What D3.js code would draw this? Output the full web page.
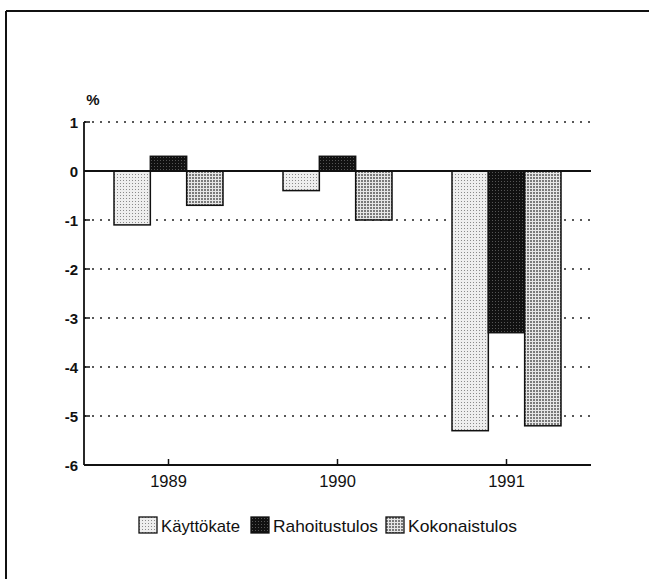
<!DOCTYPE html>
<html>
<head>
<meta charset="utf-8">
<script src="https://cdn.jsdelivr.net/npm/d3@7"></script>
<style>
	body { margin: 0; background: #fff; overflow: hidden; }
	svg { display: block; }
	text { font-family: "Liberation Sans", Arial, sans-serif; fill: #111; }
</style>
</head>
<body>
<div id="chart"></div>
<script>
// Data
var years = ["1989", "1990", "1991"];
var series = ["Käyttökate", "Rahoitustulos", "Kokonaistulos"];
var kayttokate = [-1.1, -0.4, -5.3];
var rahoitustulos = [0.3, 0.3, -3.3];
var kokonaistulos = [-0.7, -1.0, -5.2];
var yTicks = [1, 0, -1, -2, -3, -4, -5, -6];

function init() {

	var w = 649;
	var h = 579;

	var left = 84, right = 591, top = 122, bottom = 465;

	var values = [kayttokate, rahoitustulos, kokonaistulos];

	var svg = d3.select("#chart")
		.append("svg")
		.attr("width", w)
		.attr("height", h);

	// Fill patterns
	var defs = svg.append("defs");

	var p1 = defs.append("pattern").attr("id", "p0")
		.attr("width", 3).attr("height", 3).attr("patternUnits", "userSpaceOnUse");
	p1.append("rect").attr("width", 3).attr("height", 3).attr("fill", "#eeeeee");
	p1.append("rect").attr("width", 1).attr("height", 1).attr("fill", "#8a8a8a");

	var p2 = defs.append("pattern").attr("id", "p1")
		.attr("width", 3).attr("height", 3).attr("patternUnits", "userSpaceOnUse");
	p2.append("rect").attr("width", 3).attr("height", 3).attr("fill", "#111");
	p2.append("rect").attr("x", 1).attr("y", 1).attr("width", 1).attr("height", 1).attr("fill", "#555");

	var p3 = defs.append("pattern").attr("id", "p2")
		.attr("width", 3).attr("height", 3).attr("patternUnits", "userSpaceOnUse");
	p3.append("rect").attr("width", 3).attr("height", 3).attr("fill", "#e6e6e6");
	p3.append("rect").attr("width", 2).attr("height", 2).attr("fill", "#7a7a7a");

	// Frame (top and left only)
	svg.append("line").attr("x1", 6).attr("x2", w).attr("y1", 11).attr("y2", 11)
		.attr("stroke", "#111").attr("stroke-width", 2);
	svg.append("line").attr("x1", 6).attr("x2", 6).attr("y1", 11).attr("y2", h)
		.attr("stroke", "#111").attr("stroke-width", 2);

	var xScale = d3.scaleBand()
		.domain(years)
		.range([left, right]);

	var xInner = d3.scaleBand()
		.domain(d3.range(series.length))
		.range([0, 109]);

	var yScale = d3.scaleLinear()
		.domain([-6, 1])
		.range([bottom, top]);

	// Dotted gridlines
	svg.selectAll(".grid")
		.data(yTicks.filter(function(d) { return d !== 0 && d !== -6; }))
		.enter()
		.append("line")
		.attr("class", "grid")
		.attr("x1", left)
		.attr("x2", right)
		.attr("y1", function(d) { return yScale(d); })
		.attr("y2", function(d) { return yScale(d); })
		.attr("stroke", "#222")
		.attr("stroke-width", 1.6)
		.attr("stroke-dasharray", "2,6");

	// y ticks (short solid stubs)
	svg.selectAll(".ytick")
		.data(yTicks)
		.enter()
		.append("line")
		.attr("x1", left)
		.attr("x2", left + 6)
		.attr("y1", function(d) { return yScale(d); })
		.attr("y2", function(d) { return yScale(d); })
		.attr("stroke", "#111")
		.attr("stroke-width", 1.5);

	svg.selectAll(".ylab")
		.data(yTicks)
		.enter()
		.append("text")
		.attr("x", 78)
		.attr("y", function(d) { return yScale(d) + 5.5; })
		.attr("text-anchor", "end")
		.attr("font-size", 15)
		.attr("font-weight", "bold")
		.text(function(d) { return d; });

	svg.append("text")
		.attr("x", 93)
		.attr("y", 105)
		.attr("text-anchor", "middle")
		.attr("font-size", 15)
		.attr("font-weight", "bold")
		.text("%");

	// Bars
	var groups = svg.selectAll(".year")
		.data(years)
		.enter()
		.append("g")
		.attr("transform", function(d) {
			return "translate(" + (xScale(d) + xScale.bandwidth() / 2 - 54.5) + ",0)";
		});

	groups.selectAll("rect")
		.data(function(d, i) {
			return values.map(function(v, j) { return { s: j, v: v[i] }; });
		})
		.enter()
		.append("rect")
		.attr("x", function(d) { return xInner(d.s); })
		.attr("y", function(d) { return yScale(Math.max(0, d.v)); })
		.attr("width", xInner.bandwidth())
		.attr("height", function(d) { return Math.abs(yScale(d.v) - yScale(0)); })
		.attr("fill", function(d) { return "url(#p" + d.s + ")"; })
		.attr("stroke", "#111")
		.attr("stroke-width", 1.5);

	// Axes lines
	svg.append("line").attr("x1", left).attr("x2", right)
		.attr("y1", yScale(0)).attr("y2", yScale(0))
		.attr("stroke", "#111").attr("stroke-width", 1.8);
	svg.append("line").attr("x1", left).attr("x2", right)
		.attr("y1", bottom).attr("y2", bottom)
		.attr("stroke", "#111").attr("stroke-width", 1.8);
	svg.append("line").attr("x1", left).attr("x2", left)
		.attr("y1", top).attr("y2", bottom)
		.attr("stroke", "#111").attr("stroke-width", 1.8);

	// x ticks and labels
	svg.selectAll(".xtick")
		.data(years)
		.enter()
		.append("line")
		.attr("x1", function(d) { return xScale(d) + xScale.bandwidth() / 2; })
		.attr("x2", function(d) { return xScale(d) + xScale.bandwidth() / 2; })
		.attr("y1", bottom)
		.attr("y2", bottom - 6)
		.attr("stroke", "#111")
		.attr("stroke-width", 1.5);

	svg.selectAll(".xlab")
		.data(years)
		.enter()
		.append("text")
		.attr("x", function(d) { return xScale(d) + xScale.bandwidth() / 2; })
		.attr("y", 487)
		.attr("text-anchor", "middle")
		.attr("font-size", 16.5)
		.text(function(d) { return d; });

	// Legend
	var legendX = [139, 251, 386];
	var legend = svg.selectAll(".legend")
		.data(series)
		.enter()
		.append("g")
		.attr("transform", function(d, i) { return "translate(" + legendX[i] + ",517)"; });

	legend.append("rect")
		.attr("width", 18)
		.attr("height", 16)
		.attr("fill", function(d, i) { return "url(#p" + i + ")"; })
		.attr("stroke", "#111")
		.attr("stroke-width", 1.3);

	legend.append("text")
		.attr("x", 22)
		.attr("y", 15)
		.attr("font-size", 17)
		.attr("textLength", function(d, i) { return [79, 105, 109][i]; })
		.attr("lengthAdjust", "spacingAndGlyphs")
		.text(function(d) { return d; });
}

window.onload = init;
</script>
</body>
</html>
